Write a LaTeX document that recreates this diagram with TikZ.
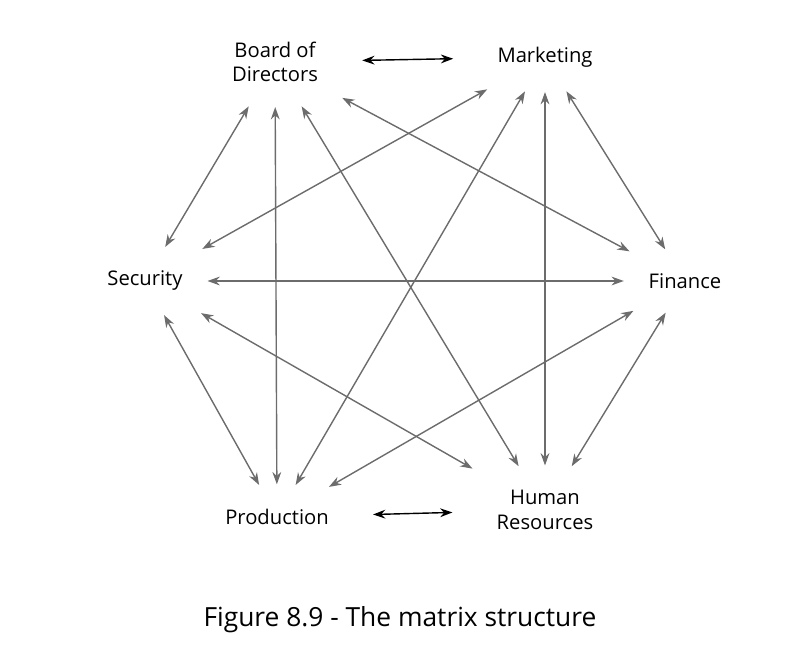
\documentclass[tikz,border=0pt]{standalone}
\usepackage{fontspec}
\setmainfont{Open Sans}
\usetikzlibrary{arrows.meta}
\tikzset{
	dept/.style={align=center, inner sep=11pt, font=\fontsize{11.5}{14}\selectfont},
	link/.style={{Stealth[length=7pt,width=5pt]}-{Stealth[length=7pt,width=5pt]}, draw=gray!85!black, line width=0.8pt, shorten <=3pt, shorten >=3pt},
	peer/.style={link, draw=black, shorten <=14pt, shorten >=14pt}
}
\begin{document}
\begin{tikzpicture}[x=0.02cm, y=-0.02cm]
	\useasboundingbox (0,0) rectangle (796,664);
	\node[dept](B) at (275,62){Board of\\Directors};
	\node[dept](M) at (545,57){Marketing};
	\node[dept](S) at (145,281){Security};
	\node[dept](F) at (685,281){Finance};
	\node[dept](P) at (277,517){Production};
	\node[dept](H) at (545,510){Human\\Resources};
	\node[font=\fontsize{15}{18}\selectfont](cap) at (400,620){Figure 8.9 - The matrix structure};
	% peers
	\draw[peer] (B) -- (M);
	\draw[peer] (P) -- (H);
	% links across the matrix
	\draw[link] (B) -- (S);
	\draw[link] (B) -- (P);
	\draw[link] (B) -- (H);
	\draw[link] (B) -- (F);
	\draw[link] (M) -- (S);
	\draw[link] (M) -- (P);
	\draw[link] (M) -- (H);
	\draw[link] (M) -- (F);
	\draw[link] (S) -- (F);
	\draw[link] (S) -- (P);
	\draw[link] (S) -- (H);
	\draw[link] (F) -- (P);
	\draw[link] (F) -- (H);
\end{tikzpicture}
\end{document}
